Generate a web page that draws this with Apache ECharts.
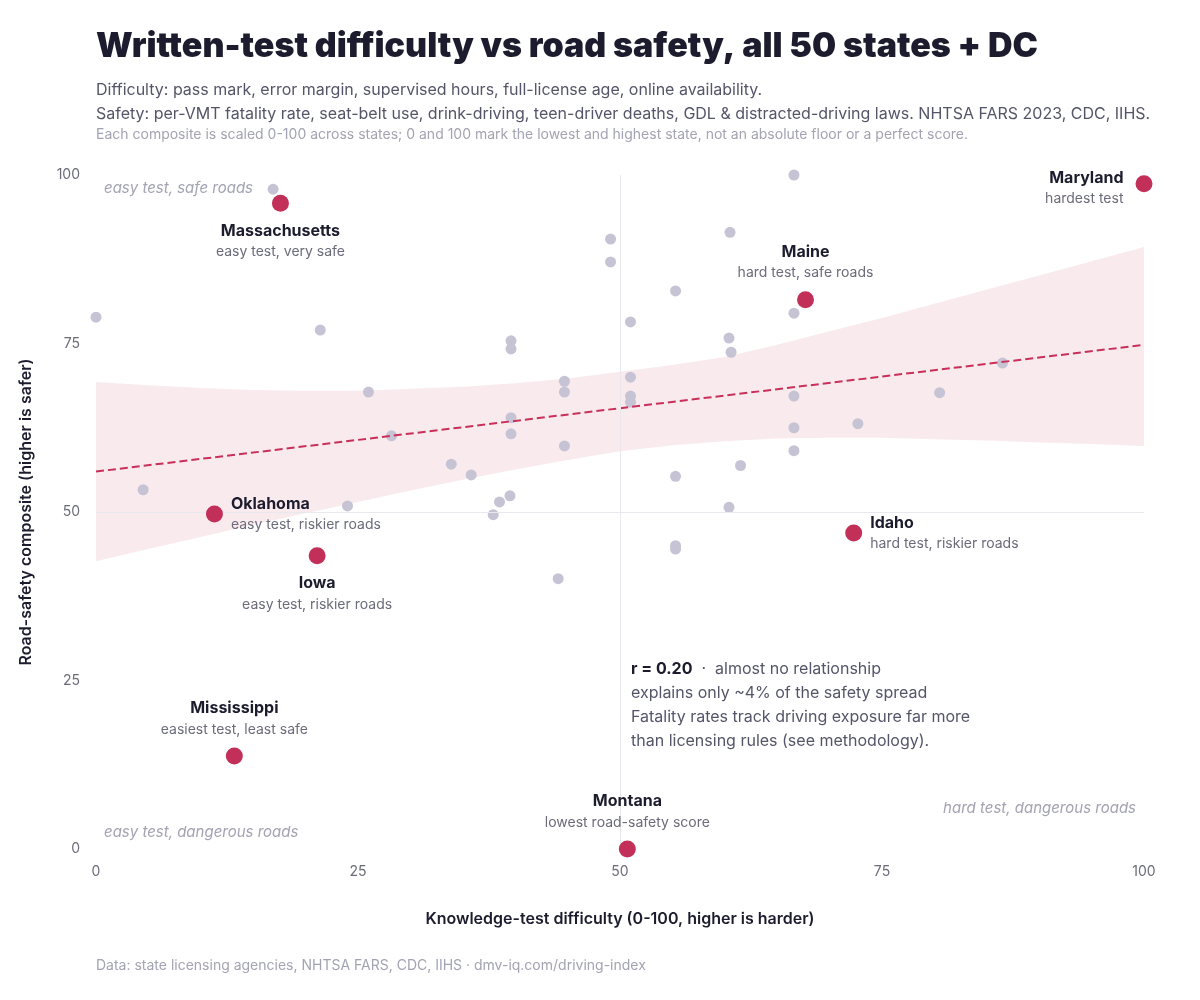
<!DOCTYPE html>
<html style="height: 100%">
<head><meta charset="utf-8"></head>
<body style="height: 100%; margin: 0">
<div id="container" style="width:1200px;height:1000px"></div>
<script src="https://cdn.jsdelivr.net/npm/echarts@6/dist/echarts.min.js"></script>
<script>
// other states: [difficulty, safety]
var otherStates = [
  [16.9,97.9],[66.6,100],[0,78.9],[21.4,77.0],[49.1,90.5],[49.1,87.1],[60.5,91.5],
  [55.3,82.8],[51.0,78.2],[39.6,75.4],[39.6,74.2],[60.4,75.8],[60.6,73.7],[66.6,79.5],
  [86.5,72.1],[80.5,67.7],[72.7,63.1],[66.6,67.2],[66.6,62.5],[66.6,59.1],[61.5,56.9],
  [55.3,55.3],[60.4,50.7],[55.3,45.0],[55.3,44.5],[44.1,40.1],[44.7,69.4],[44.7,67.8],
  [51.0,70.0],[51.0,67.2],[51.0,66.3],[39.6,64.0],[39.6,61.6],[44.7,59.8],[26.0,67.8],
  [28.2,61.3],[33.9,57.1],[35.8,55.5],[38.5,51.5],[39.5,52.4],[37.9,49.6],[24.0,50.9],[4.5,53.3]
];
var highlightNames = ['Massachusetts','Maryland','Maine','Oklahoma','Iowa','Idaho','Mississippi','Montana'];
var highlightNotes = ['easy test, very safe','hardest test','hard test, safe roads','easy test, riskier roads',
  'easy test, riskier roads','hard test, riskier roads','easiest test, least safe','lowest road-safety score'];
var highlightValues = [[17.6,95.8],[100,98.7],[67.7,81.5],[11.3,49.7],[21.1,43.5],[72.3,46.9],[13.2,13.8],[50.7,0]];
var labelPlaces = ['bottom','left','top','right','bottom','right','top','top'];
var trendLine = [[0,56.0],[100,74.8]];
var bandX = [0,5,10,15,20,25,30,35,40,45,50,55,60,65,70,75,80,85,90,95,100];
var bandUpper = [69.3,68.8,68.4,68.1,68.0,68.0,68.3,68.6,69.1,69.8,70.8,71.8,73.0,74.8,76.8,78.8,80.9,83.0,85.1,87.2,89.3];
var bandLower = [42.7,44.5,46.3,48.1,49.8,51.5,53.2,54.8,56.3,57.7,59.0,59.9,60.5,60.9,61.0,61.0,60.8,60.6,60.3,60.1,59.8];

var font = 'Inter, "Noto Sans", sans-serif';
var chart = echarts.init(document.getElementById('container'));

var highlightData = highlightValues.map(function (v, i) {
  var pos = labelPlaces[i];
  var align = pos === 'left' ? 'right' : (pos === 'right' ? 'left' : 'center');
  return {
    value: v,
    label: {
      show: true, position: pos, distance: pos === 'left' ? 12 : 8,
      offset: pos === 'left' ? [0, 4] : [0, 0],
      formatter: '{n|' + highlightNames[i] + '}\n{s|' + highlightNotes[i] + '}',
      align: align,
      rich: {
        n: { fontFamily: font, fontSize: 16, fontWeight: 'bold', color: '#1c1c2e', lineHeight: 22, align: align },
        s: { fontFamily: font, fontSize: 14, color: '#6b6b7b', lineHeight: 20, align: align }
      }
    }
  };
});

var option = {
  animation: false,
  textStyle: { fontFamily: font },
  graphic: [
    { type: 'text', left: 96, top: 30, style: { text: 'Written-test difficulty vs road safety, all 50 states + DC', font: '900 34px ' + font, fill: '#1c1c2e' } },
    { type: 'text', left: 96, top: 82, style: { text: 'Difficulty: pass mark, error margin, supervised hours, full-license age, online availability.', font: '16px ' + font, fill: '#55556a' } },
    { type: 'text', left: 96, top: 106, style: { text: 'Safety: per-VMT fatality rate, seat-belt use, drink-driving, teen-driver deaths, GDL & distracted-driving laws. NHTSA FARS 2023, CDC, IIHS.', font: '16px ' + font, fill: '#55556a' } },
    { type: 'text', left: 96, top: 128, style: { text: 'Each composite is scaled 0-100 across states; 0 and 100 mark the lowest and highest state, not an absolute floor or a perfect score.', font: '14px ' + font, fill: '#a3a3b3' } },
    { type: 'text', left: 104, top: 181, style: { text: 'easy test, safe roads', font: 'italic 15px ' + font, fill: '#a3a3b3' } },
    { type: 'text', left: 104, top: 825, style: { text: 'easy test, dangerous roads', font: 'italic 15px ' + font, fill: '#a3a3b3' } },
    { type: 'text', right: 64, top: 801, style: { text: 'hard test, dangerous roads', font: 'italic 15px ' + font, fill: '#a3a3b3', align: 'right' } },
    { type: 'text', left: 631, top: 657, style: {
      text: '{b|r = 0.20}  ·  almost no relationship\nexplains only ~4% of the safety spread\nFatality rates track driving exposure far more\nthan licensing rules (see methodology).',
      font: '16px ' + font, fill: '#55556a', lineHeight: 24,
      rich: { b: { font: 'bold 16px ' + font, fill: '#1c1c2e' } } } },
    { type: 'text', left: 96, top: 959, style: { text: 'Data: state licensing agencies, NHTSA FARS, CDC, IIHS · dmv-iq.com/driving-index', font: '14px ' + font, fill: '#a3a3b3' } }
  ],
  grid: { left: 96, right: 56, top: 175, bottom: 151 },
  xAxis: {
    type: 'value', min: 0, max: 100, interval: 25,
    name: 'Knowledge-test difficulty (0-100, higher is harder)', nameLocation: 'middle', nameGap: 62,
    nameTextStyle: { fontSize: 16, fontWeight: 600, color: '#1c1c2e' },
    axisLine: { show: false }, axisTick: { show: false }, splitLine: { show: false },
    axisLabel: { color: '#6b6b7b', fontSize: 14, margin: 16 }
  },
  yAxis: {
    type: 'value', min: 0, max: 100, interval: 25,
    name: 'Road-safety composite (higher is safer)', nameLocation: 'middle', nameGap: 62,
    nameTextStyle: { fontSize: 16, fontWeight: 600, color: '#1c1c2e' },
    axisLine: { show: false }, axisTick: { show: false }, splitLine: { show: false },
    axisLabel: { color: '#6b6b7b', fontSize: 14, margin: 16 }
  },
  series: [
    { type: 'custom', silent: true, z: 1,
      data: [0],
      renderItem: function (params, api) {
        var up = bandX.map(function (x, i) { return api.coord([x, bandUpper[i]]); });
        var lo = bandX.map(function (x, i) { return api.coord([x, bandLower[i]]); }).reverse();
        return {
          type: 'polygon',
          shape: { points: up.concat(lo) },
          style: { fill: 'rgba(200,50,90,0.1)', stroke: 'none' }
        };
      }
    },
    { type: 'line', data: trendLine, symbol: 'none', lineStyle: { color: '#c8305a', type: 'dashed', width: 2 },
      markLine: { symbol: 'none', silent: true, label: { show: false },
        lineStyle: { color: '#e8e8ee', type: 'solid', width: 1 },
        data: [{ xAxis: 50 }, { yAxis: 50 }] } },
    { type: 'scatter', data: otherStates, symbolSize: 11, itemStyle: { color: '#c6c4d4', opacity: 1 } },
    { type: 'scatter', data: highlightData, symbolSize: 17, itemStyle: { color: '#c2305a', opacity: 1 }, z: 5 }
  ]
};
chart.setOption(option);
</script>
</body>
</html>
